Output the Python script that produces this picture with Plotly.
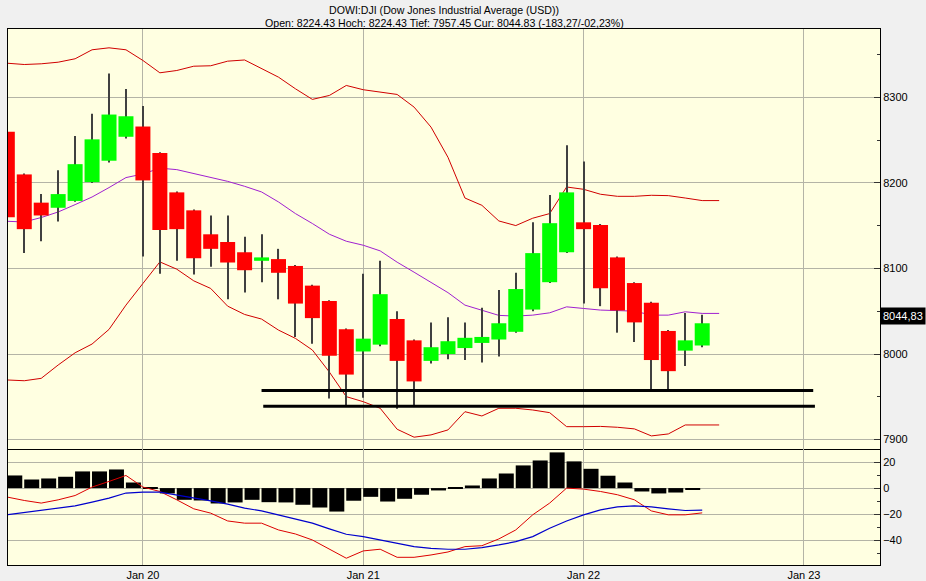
import plotly.graph_objects as go

# ---------------- data ----------------
title_line1 = "DOWI:DJI (Dow Jones Industrial Average (USD))"
title_line2 = "Open: 8224.43 Hoch: 8224.43 Tief: 7957.45 Cur: 8044.83 (-183,27/-02,23%)"
last_price = 8044.83
last_price_label = "8044,83"

# 30-minute bars, 13 per trading day; slot index 0 = Jan 19 13:00
day_labels = ["Jan 20", "Jan 21", "Jan 22", "Jan 23"]
day_start_slot = [8, 21, 34, 47]

opens = [8260, 8210, 8177, 8171, 8179, 8201, 8226, 8254, 8266, 8235, 8189, 8168, 8140, 8131,
         8119, 8109, 8111, 8103, 8080, 8062, 8029, 8003, 8011, 8041, 8016, 7992, 8000, 8007,
         8013, 8017, 8026, 8052, 8084, 8119, 8154, 8151, 8113, 8083, 8060, 8027, 8004, 8010]
highs = [8262, 8211, 8187, 8215, 8255, 8281, 8328, 8310, 8290, 8236, 8190, 8169, 8162, 8162,
         8137, 8140, 8123, 8104, 8081, 8063, 8030, 8094, 8109, 8050, 8017, 8037, 8043, 8037,
         8054, 8075, 8095, 8154, 8186, 8244, 8225, 8152, 8114, 8084, 8061, 8028, 8048, 8046]
lows = [8158, 8118, 8132, 8155, 8178, 8200, 8224, 8252, 8114, 8094, 8109, 8093, 8102, 8064,
        8072, 8084, 8064, 8020, 8012, 7948, 7940, 7949, 8009, 7936, 7940, 7989, 7994, 7993,
        7990, 7997, 8025, 8050, 8083, 8118, 8059, 8056, 8025, 8014, 7959, 7958, 7986, 8008]
closes = [8160, 8146, 8162, 8187, 8222, 8251, 8280, 8278, 8203, 8145, 8146, 8112, 8123, 8107,
          8098, 8113, 8095, 8059, 8042, 7998, 7976, 8018, 8070, 7992, 7968, 8008, 8015, 8019,
          8020, 8036, 8076, 8118, 8153, 8189, 8146, 8077, 8051, 8037, 7993, 7980, 8016, 8036]

# Bollinger bands (slots 0..42)
bb_upper = [8340.0, 8338.5, 8339.3, 8341.2, 8345.2, 8355.7, 8358.0, 8355.7, 8343.2, 8328.8,
            8331.5, 8336.5, 8337.0, 8342.4, 8343.8, 8333.8, 8323.7, 8310.1, 8297.7, 8302.3,
            8314.0, 8309.0, 8306.2, 8303.5, 8288.7, 8265.3, 8230.0, 8182.4, 8173.9, 8155.6,
            8150.2, 8158.8, 8164.2, 8195.3, 8192.6, 8186.8, 8184.4, 8184.4, 8185.6, 8185.2,
            8182.4, 8179.4, 8179.4]
bb_middle = [8155.2, 8154.4, 8159.6, 8166.1, 8174.7, 8183.6, 8194.6, 8206.3, 8210.5, 8217.3,
             8215.6, 8211.3, 8207.0, 8201.9, 8196.1, 8189.5, 8177.8, 8164.2, 8152.6, 8140.1,
             8131.9, 8127.2, 8120.6, 8107.4, 8095.7, 8084.0, 8071.8, 8057.2, 8051.4, 8045.2,
             8044.4, 8045.5, 8048.2, 8055.2, 8053.3, 8051.4, 8050.8, 8050.2, 8045.5, 8045.5,
             8049.4, 8047.5, 8047.5]
bb_lower = [7969.7, 7968.8, 7971.6, 7987.2, 8001.5, 8011.7, 8028.8, 8057.2, 8082.5, 8107.7,
            8099.2, 8085.6, 8076.7, 8056.0, 8046.3, 8040.9, 8028.0, 8018.3, 8004.7, 7979.0,
            7950.2, 7944.3, 7936.6, 7912.1, 7902.8, 7905.5, 7911.3, 7932.6, 7927.6, 7936.6,
            7936.6, 7934.6, 7931.5, 7915.1, 7915.1, 7915.4, 7914.4, 7912.5, 7904.3, 7906.6,
            7917.1, 7917.1, 7917.1]

# MACD (slots 0..41) and histogram (slots 1..41)
macd_line = [-6.9, -9.5, -11.5, -9.0, -5.7, 0.8, 5.1, 9.7, 0.8, -2.6, -9.0, -15.9, -19.2, -25.2,
             -26.9, -26.9, -32.1, -35.2, -39.8, -46.7, -53.8, -48.2, -46.9, -53.1, -53.1, -51.3,
             -49.0, -44.9, -44.2, -39.0, -32.1, -20.5, -11.5, 0.0, -0.8, -2.6, -5.1, -9.0,
             -17.5, -20.5, -20.5, -19.0]
macd_signal = [-20.5, -18.7, -16.7, -14.9, -13.6, -10.8, -7.7, -3.8, -3.1, -3.1, -5.2, -7.2,
               -9.8, -12.3, -15.4, -17.5, -20.5, -23.6, -26.9, -31.3, -35.4, -37.2, -39.8,
               -42.3, -44.9, -46.2, -46.9, -46.9, -45.7, -43.6, -41.1, -37.2, -30.8, -25.2,
               -20.5, -16.7, -14.4, -13.6, -14.4, -15.9, -17.2, -16.9]
macd_hist = [9.7, 6.6, 7.4, 8.7, 12.8, 12.8, 14.3, 4.3, 0.6, -4.1, -9.0, -9.5, -11.8, -11.0,
             -9.0, -10.8, -11.0, -12.8, -14.9, -18.0, -9.7, -6.7, -10.3, -8.2, -5.1, -1.8,
             0.8, 2.0, 7.4, 11.2, 17.4, 21.2, 27.4, 20.5, 14.8, 9.5, 4.3, -2.6, -4.1, -3.4, -1.1]

# support lines drawn on the chart
support_levels = [7957.45, 7939.0]
support_from = [15.0, 15.1]
support_to = [47.55, 47.65]

# ---------------- styling ----------------
FONT = "Liberation Sans, Arial, sans-serif"
RED = "#ff0000"
GREEN = "#00ff00"
WICK = "#404040"
GRID = "#b4b4a6"
BG = "#ffffe1"
PAPER = "#f0f0f0"
BODY_W = 0.885
WICK_W = 0.065
HIST_OFFSET = -0.56

slots = list(range(len(opens)))
band_slots = list(range(len(bb_upper)))
macd_slots = list(range(len(macd_line)))
hist_slots = [k + 1 + HIST_OFFSET for k in range(len(macd_hist))]

body_base = [min(o, c) for o, c in zip(opens, closes)]
body_len = [max(abs(c - o), 0.6) for o, c in zip(opens, closes)]
body_col = [GREEN if c >= o else RED for o, c in zip(opens, closes)]
wick_len = [h - l for h, l in zip(highs, lows)]

fig = go.Figure()

# bands on base axes (drawn behind candles)
fig.add_trace(go.Scatter(x=band_slots, y=bb_upper, mode="lines",
                         line=dict(color="#d00000", width=1), xaxis="x", yaxis="y"))
fig.add_trace(go.Scatter(x=band_slots, y=bb_lower, mode="lines",
                         line=dict(color="#d00000", width=1), xaxis="x", yaxis="y"))
fig.add_trace(go.Scatter(x=band_slots, y=bb_middle, mode="lines",
                         line=dict(color="#a020d0", width=1), xaxis="x", yaxis="y"))

# candles on overlaying axis
fig.add_trace(go.Bar(x=slots, y=wick_len, base=lows, width=WICK_W,
                     marker=dict(color=WICK, line=dict(width=0)), xaxis="x", yaxis="y3"))
fig.add_trace(go.Bar(x=slots, y=body_len, base=body_base, width=BODY_W,
                     marker=dict(color=body_col, line=dict(width=0)), xaxis="x", yaxis="y3"))

for lvl, x0, x1 in zip(support_levels, support_from, support_to):
    fig.add_trace(go.Scatter(x=[x0, x1], y=[lvl, lvl], mode="lines",
                             line=dict(color="black", width=3), xaxis="x", yaxis="y3"))

# MACD panel
fig.add_trace(go.Bar(x=hist_slots, y=macd_hist, width=BODY_W,
                     marker=dict(color="black", line=dict(width=0)), xaxis="x2", yaxis="y2"))
fig.add_trace(go.Scatter(x=macd_slots, y=macd_line, mode="lines",
                         line=dict(color="#dd0000", width=1), xaxis="x2", yaxis="y2"))
fig.add_trace(go.Scatter(x=macd_slots, y=macd_signal, mode="lines",
                         line=dict(color="#0000cc", width=1.2), xaxis="x2", yaxis="y2"))

split = (565 - 449) / 536.0
xr = [0.04, 51.49]
yr = [7889, 8380]

axis_common = dict(showline=True, linecolor="black", linewidth=1,
                   zeroline=False, gridcolor=GRID, gridwidth=1, automargin=False)

fig.update_layout(
    template="none",
    width=926, height=581, autosize=False,
    margin=dict(l=8, r=46, t=29, b=16, pad=0),
    paper_bgcolor=PAPER, plot_bgcolor=BG,
    showlegend=False, barmode="overlay", hovermode=False,
    font=dict(family=FONT, size=11, color="black"),
    xaxis=dict(domain=[0, 1], anchor="y", range=xr, tickmode="array",
               tickvals=day_start_slot, showticklabels=False, ticks="",
               showgrid=True, mirror=True, **axis_common),
    xaxis2=dict(domain=[0, 1], anchor="y2", range=xr, matches="x", tickmode="array",
                tickvals=day_start_slot, ticktext=day_labels, ticks="",
                showgrid=True, mirror=False, tickfont=dict(size=11), **axis_common),
    yaxis=dict(domain=[split, 1], anchor="x", side="right", range=yr,
               tick0=7900, dtick=100, ticks="inside", ticklen=6, tickcolor="#333333",
               minor=dict(dtick=50, ticks="inside", ticklen=3, tickcolor="#333333", showgrid=False),
               showgrid=True, mirror=True, tickfont=dict(size=11), **axis_common),
    yaxis3=dict(overlaying="y", anchor="x", side="right", range=yr, visible=False,
                showgrid=False, zeroline=False, automargin=False),
    yaxis2=dict(domain=[0, split], anchor="x2", side="right", range=[-59, 30],
                tick0=0, dtick=20, ticks="inside", ticklen=6, tickcolor="#333333",
                minor=dict(dtick=10, ticks="inside", ticklen=3, tickcolor="#333333", showgrid=False),
                showgrid=True, mirror=True, tickfont=dict(size=11), **axis_common),
)

fig.add_annotation(text=title_line1, xref="paper", yref="paper", x=0.5, y=(565 - 10) / 536.0,
                   xanchor="center", yanchor="middle", showarrow=False,
                   font=dict(family=FONT, size=10.6, color="black"))
fig.add_annotation(text=title_line2, xref="paper", yref="paper", x=0.5, y=(565 - 23) / 536.0,
                   xanchor="center", yanchor="middle", showarrow=False,
                   font=dict(family=FONT, size=10.6, color="black"))
fig.add_annotation(text=last_price_label, xref="paper", yref="y", x=1, y=last_price,
                   xanchor="left", yanchor="middle", showarrow=False, bgcolor="black",
                   borderpad=2, font=dict(family=FONT, size=11, color="white"))

fig.write_html("out.html", config={"displayModeBar": False},
               post_script="document.body.style.margin='0';")
